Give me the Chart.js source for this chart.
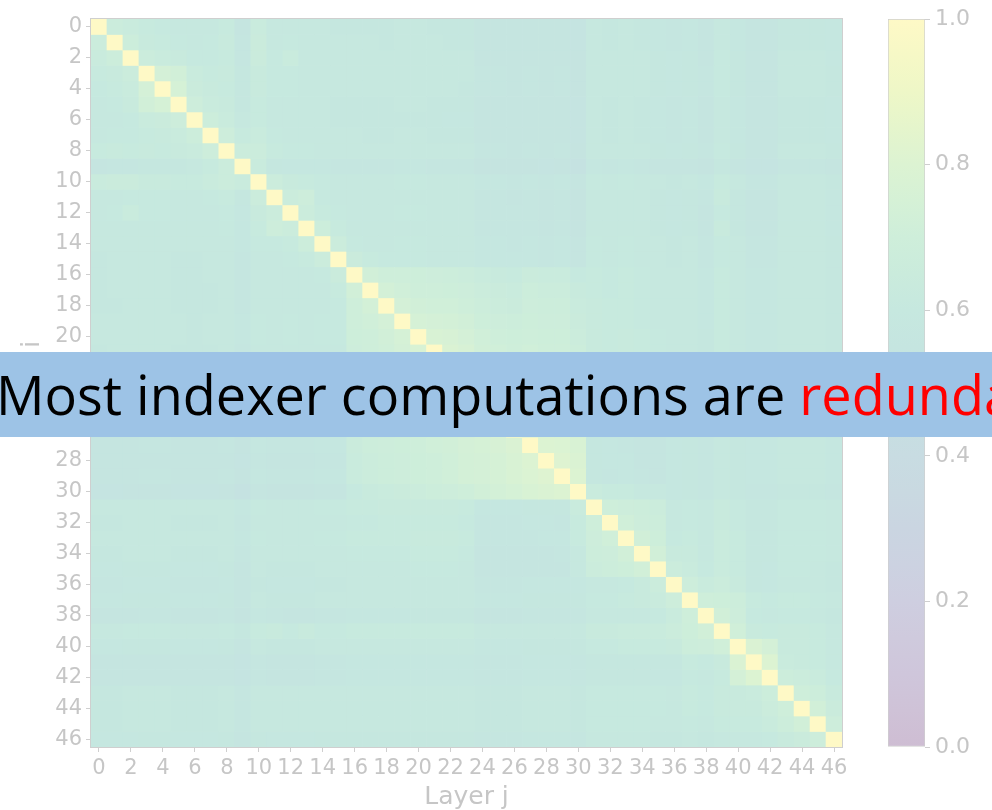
<!DOCTYPE html>
<html>
<head>
<meta charset="utf-8">
<script src="https://cdn.jsdelivr.net/npm/chart.js@4/dist/chart.umd.min.js"></script>
<style>
  html, body { margin: 0; padding: 0; background: #ffffff; width: 992px; height: 810px; overflow: hidden; }
  #heat { position: absolute; left: 0; top: 0; }
  #scale { position: absolute; left: 870px; top: 0; }
  #banner { position: absolute; left: 0; top: 352px; width: 992px; height: 85px; background: #9dc3e6; overflow: hidden; white-space: nowrap; }
  #banner .line { position: absolute; left: -4px; top: 15px; font-family: 'Open Sans', 'Noto Sans', sans-serif; font-size: 54px; line-height: 1; color: #000000; }
  #banner .hot { color: #ff0000; }
</style>
</head>
<body>
<canvas id="heat" width="870" height="810"></canvas>
<canvas id="scale" width="122" height="810"></canvas>
<div id="banner"><span class="line">Most indexer computations are <span class="hot">redundant</span></span></div>
<script>
// Layer indices on both axes
const layerIds = [0,1,2,3,4,5,6,7,8,9,10,11,12,13,14,15,16,17,18,19,20,21,22,23,
                  24,25,26,27,28,29,30,31,32,33,34,35,36,37,38,39,40,41,42,43,44,45,46];
// Labelled ticks on the layer axes
const layerTicks = [0,2,4,6,8,10,12,14,16,18,20,22,24,26,28,30,32,34,36,38,40,42,44,46];
// Colour bar ticks
const colorTicks = [0.0, 0.2, 0.4, 0.6, 0.8, 1.0];

// Similarity between layer i and layer j (in hundredths), lower triangle incl. diagonal.
// The matrix is symmetric, so cell (i, j) with j > i uses row j, column i.
const simRows = [
  [100],
  [66,100],
  [64,67,100],
  [62,63,66,100],
  [61,62,64,74,100],
  [60,61,63,72,75,100],
  [59,60,61,64,65,68,100],
  [60,61,61,62,63,64,67,100],
  [62,63,62,63,62,63,64,68,100],
  [55,56,56,58,58,58,59,62,66,100],
  [64,65,65,63,63,62,62,64,66,64,100],
  [60,60,61,61,61,60,60,61,62,58,66,100],
  [60,61,64,61,61,60,60,60,61,57,63,66,100],
  [59,60,60,60,60,59,59,60,61,57,62,68,66,100],
  [59,60,60,60,60,59,59,60,60,57,61,61,62,67,100],
  [58,59,59,59,59,58,58,59,59,56,60,60,61,62,66,100],
  [58,59,59,59,59,58,58,59,59,56,60,59,60,60,61,65,100],
  [58,59,59,59,59,58,58,58,59,56,60,59,60,60,60,62,72,100],
  [58,58,59,59,59,58,58,58,59,56,60,59,60,60,60,61,70,73,100],
  [59,59,60,60,60,59,58,59,60,57,61,60,61,60,61,61,70,71,74,100],
  [59,59,60,60,60,59,58,59,60,57,61,60,61,60,61,61,69,70,72,75,100],
  [58,59,59,59,59,58,58,58,59,56,60,59,60,60,60,60,68,70,71,74,77,100],
  [58,58,59,59,59,58,57,58,59,56,60,59,60,59,60,60,67,69,71,73,76,78,100],
  [58,58,59,59,58,58,57,58,59,56,59,59,59,59,60,60,66,68,70,72,74,76,78,100],
  [55,55,55,56,56,55,55,55,56,53,57,56,56,56,57,57,64,66,67,69,71,72,74,77,100],
  [55,55,55,56,56,55,55,55,56,53,57,56,56,56,57,57,63,65,66,68,70,71,72,74,77,100],
  [55,55,55,55,55,55,54,55,55,53,56,55,56,56,56,57,62,64,65,67,69,70,71,72,74,77,100],
  [55,55,55,56,56,55,55,55,56,53,57,56,56,56,57,57,65,67,68,69,70,71,72,74,75,76,78,100],
  [54,54,55,55,55,54,54,54,55,52,56,55,55,55,56,56,64,66,67,68,69,70,71,73,74,75,77,80,100],
  [55,55,55,56,56,55,55,55,56,53,57,56,56,56,57,57,64,66,67,68,69,70,71,73,74,75,77,79,81,100],
  [52,52,53,53,53,52,52,52,53,50,54,53,53,53,54,54,61,63,64,65,66,67,68,70,72,73,75,77,78,80,100],
  [59,59,60,60,60,59,59,59,60,57,61,60,60,60,61,61,62,62,63,63,63,63,63,62,57,57,57,58,58,58,64,100],
  [58,58,59,59,59,58,58,58,59,56,60,59,59,59,60,60,61,61,62,62,62,62,62,61,56,56,56,57,57,56,62,70,100],
  [59,59,60,60,60,59,59,59,60,57,61,60,60,60,61,61,62,62,62,62,63,63,63,62,56,56,56,56,57,57,62,68,71,100],
  [58,58,59,59,59,58,58,58,59,56,60,59,59,59,60,60,61,61,61,61,62,62,62,61,55,55,55,55,55,56,60,67,68,72,100],
  [57,57,58,58,58,57,57,57,58,55,59,58,58,58,59,59,60,60,60,60,61,61,61,60,54,54,54,54,55,55,59,66,67,69,72,100],
  [56,56,57,57,57,56,56,56,57,54,58,57,57,57,58,58,59,59,59,59,60,60,60,59,56,56,56,57,57,57,57,60,60,61,63,66,100],
  [57,57,58,58,58,57,57,57,58,55,59,58,58,58,59,59,60,60,60,60,60,60,60,60,57,57,57,58,58,58,58,61,61,62,63,64,68,100],
  [55,55,55,56,56,55,55,55,56,53,57,56,55,55,56,56,57,57,57,57,58,58,58,58,55,55,55,56,56,56,56,59,59,60,60,61,64,70,100],
  [60,60,61,61,61,60,60,60,61,58,62,63,61,63,61,61,62,62,62,62,62,62,62,62,59,59,59,60,60,60,60,63,63,64,64,64,66,69,72,100],
  [57,57,58,58,58,57,57,57,58,55,59,58,58,58,59,59,60,60,60,60,60,60,60,60,57,57,57,58,58,58,58,61,61,62,62,62,63,67,68,71,100],
  [54,54,54,55,55,54,54,54,55,52,56,55,55,55,56,56,57,57,57,57,57,57,57,57,56,56,56,57,57,57,56,58,58,58,58,58,58,62,61,63,78,100],
  [54,54,54,55,55,54,54,54,55,52,56,55,55,55,56,56,57,57,57,57,57,57,57,57,56,56,56,57,57,57,56,58,58,58,58,57,57,61,60,62,74,80,100],
  [58,58,59,59,59,58,58,58,59,56,60,59,59,59,60,60,60,60,60,60,60,60,60,60,58,58,58,59,59,59,58,61,61,61,61,61,60,62,61,63,63,64,67,100],
  [58,58,59,59,59,58,58,58,59,56,60,59,59,59,60,60,60,60,60,60,60,60,60,60,58,58,58,59,59,59,58,61,61,61,61,61,60,62,61,63,63,63,66,70,100],
  [58,58,59,59,59,58,58,58,59,56,60,59,59,59,60,60,60,60,60,60,60,60,60,60,58,58,58,59,59,59,58,61,61,61,61,60,60,61,60,62,62,62,64,67,72,100],
  [57,57,57,58,58,57,57,57,58,55,58,57,57,57,58,58,58,58,58,58,58,58,58,58,56,56,56,57,57,57,56,59,59,59,59,58,58,59,58,60,59,59,61,63,65,68,100]
];

function similarity(i, j) {
  return (j <= i ? simRows[i][j] : simRows[j][i]) / 100;
}

// Viridis colour map, washed out towards white
const viridis = [
  [68,1,84],[72,36,117],[65,68,135],[53,95,141],[42,120,142],[33,145,140],
  [34,168,132],[68,191,112],[122,209,81],[189,223,38],[253,231,37]
];
const FADE = 0.26;
function shade(v) {
  const p = Math.max(0, Math.min(1, v)) * 10;
  const k = Math.min(9, Math.floor(p));
  const f = p - k;
  const a = viridis[k], b = viridis[k + 1];
  const rgb = [0, 1, 2].map(n => a[n] + (b[n] - a[n]) * f)
                       .map(c => Math.round(255 - FADE * (255 - c)));
  return 'rgb(' + rgb.join(',') + ')';
}

const AXIS_GREY = '#c6c6c6';
const FRAME_GREY = '#cfcfcf';
const tickFont = { family: 'DejaVu Sans', size: 21 };

// Thin frame round the plotting area
const framePlugin = {
  id: 'frame',
  afterDatasetsDraw(chart) {
    const { ctx, chartArea: a } = chart;
    ctx.save();
    ctx.strokeStyle = FRAME_GREY;
    ctx.lineWidth = 1;
    ctx.strokeRect(Math.round(a.left) - 0.5, Math.round(a.top) - 0.5,
                   Math.round(a.right - a.left) + 1, Math.round(a.bottom - a.top) + 1);
    ctx.restore();
  }
};

// One floating-bar dataset per row i: a cell per column j spanning [i-0.5, i+0.5]
const rowSets = layerIds.map(i => ({
  data: layerIds.map(j => ({ x: j, y: [i - 0.5, i + 0.5] })),
  backgroundColor: layerIds.map(j => shade(similarity(i, j))),
  borderWidth: 0,
  grouped: false,
  barPercentage: 1,
  categoryPercentage: 1
}));

const layerAxis = (extra) => Object.assign({
  type: 'linear',
  min: -0.5,
  max: 46.5,
  offset: false,
  afterBuildTicks: s => { s.ticks = layerTicks.map(v => ({ value: v })); },
  ticks: { color: AXIS_GREY, font: tickFont, padding: 4, autoSkip: false, maxRotation: 0,
           callback: v => String(v) },
  grid: { display: true, drawOnChartArea: false, drawTicks: true, tickLength: 5,
          color: FRAME_GREY, offset: false },
  border: { display: false }
}, extra);

new Chart(document.getElementById('heat'), {
  type: 'bar',
  data: { datasets: rowSets },
  options: {
    responsive: false,
    animation: false,
    events: [],
    layout: { padding: { left: 0, top: 19, right: 28, bottom: 0 } },
    plugins: { legend: { display: false }, tooltip: { enabled: false } },
    scales: {
      x: layerAxis({
        position: 'bottom',
        afterFit: s => { s.height = 63; },
        title: { display: true, text: 'Layer j', color: AXIS_GREY,
                 font: { family: 'DejaVu Sans', size: 25 }, padding: { top: 0, bottom: -2 } }
      }),
      y: layerAxis({
        position: 'left',
        reverse: true,
        afterFit: s => { s.width = 91; },
        title: { display: true, text: 'Layer i', color: AXIS_GREY,
                 font: { family: 'DejaVu Sans', size: 25 }, padding: { top: 17, bottom: 0 } }
      })
    }
  },
  plugins: [framePlugin]
});

// Colour bar: one floating bar over [0, 1] filled with the colour map
function barGradient(context) {
  const chart = context.chart;
  const yScale = chart.scales.y;
  if (!chart.chartArea || !yScale) return shade(0.6);
  const y0 = yScale.getPixelForValue(0);
  const y1 = yScale.getPixelForValue(1);
  const g = chart.ctx.createLinearGradient(0, y0, 0, y1);
  for (let k = 0; k <= 20; k++) g.addColorStop(k / 20, shade(k / 20));
  return g;
}

new Chart(document.getElementById('scale'), {
  type: 'bar',
  data: {
    labels: ['similarity'],
    datasets: [{
      data: [[0, 1]],
      backgroundColor: barGradient,
      borderColor: FRAME_GREY,
      borderWidth: 1,
      borderSkipped: false,
      barPercentage: 1,
      categoryPercentage: 1
    }]
  },
  options: {
    responsive: false,
    animation: false,
    events: [],
    layout: { padding: { left: 18, top: 19, right: 0, bottom: 63 } },
    plugins: { legend: { display: false }, tooltip: { enabled: false } },
    scales: {
      x: { display: false },
      y: {
        position: 'right',
        min: 0,
        max: 1,
        afterFit: s => { s.width = 67; },
        afterBuildTicks: s => { s.ticks = colorTicks.map(v => ({ value: v })); },
        ticks: { color: AXIS_GREY, font: { family: 'DejaVu Sans', size: 22 }, padding: 5,
                 callback: v => Number(v).toFixed(1) },
        grid: { display: true, drawOnChartArea: false, drawTicks: true, tickLength: 5, color: FRAME_GREY },
        border: { display: false }
      }
    }
  }
});
</script>
</body>
</html>
